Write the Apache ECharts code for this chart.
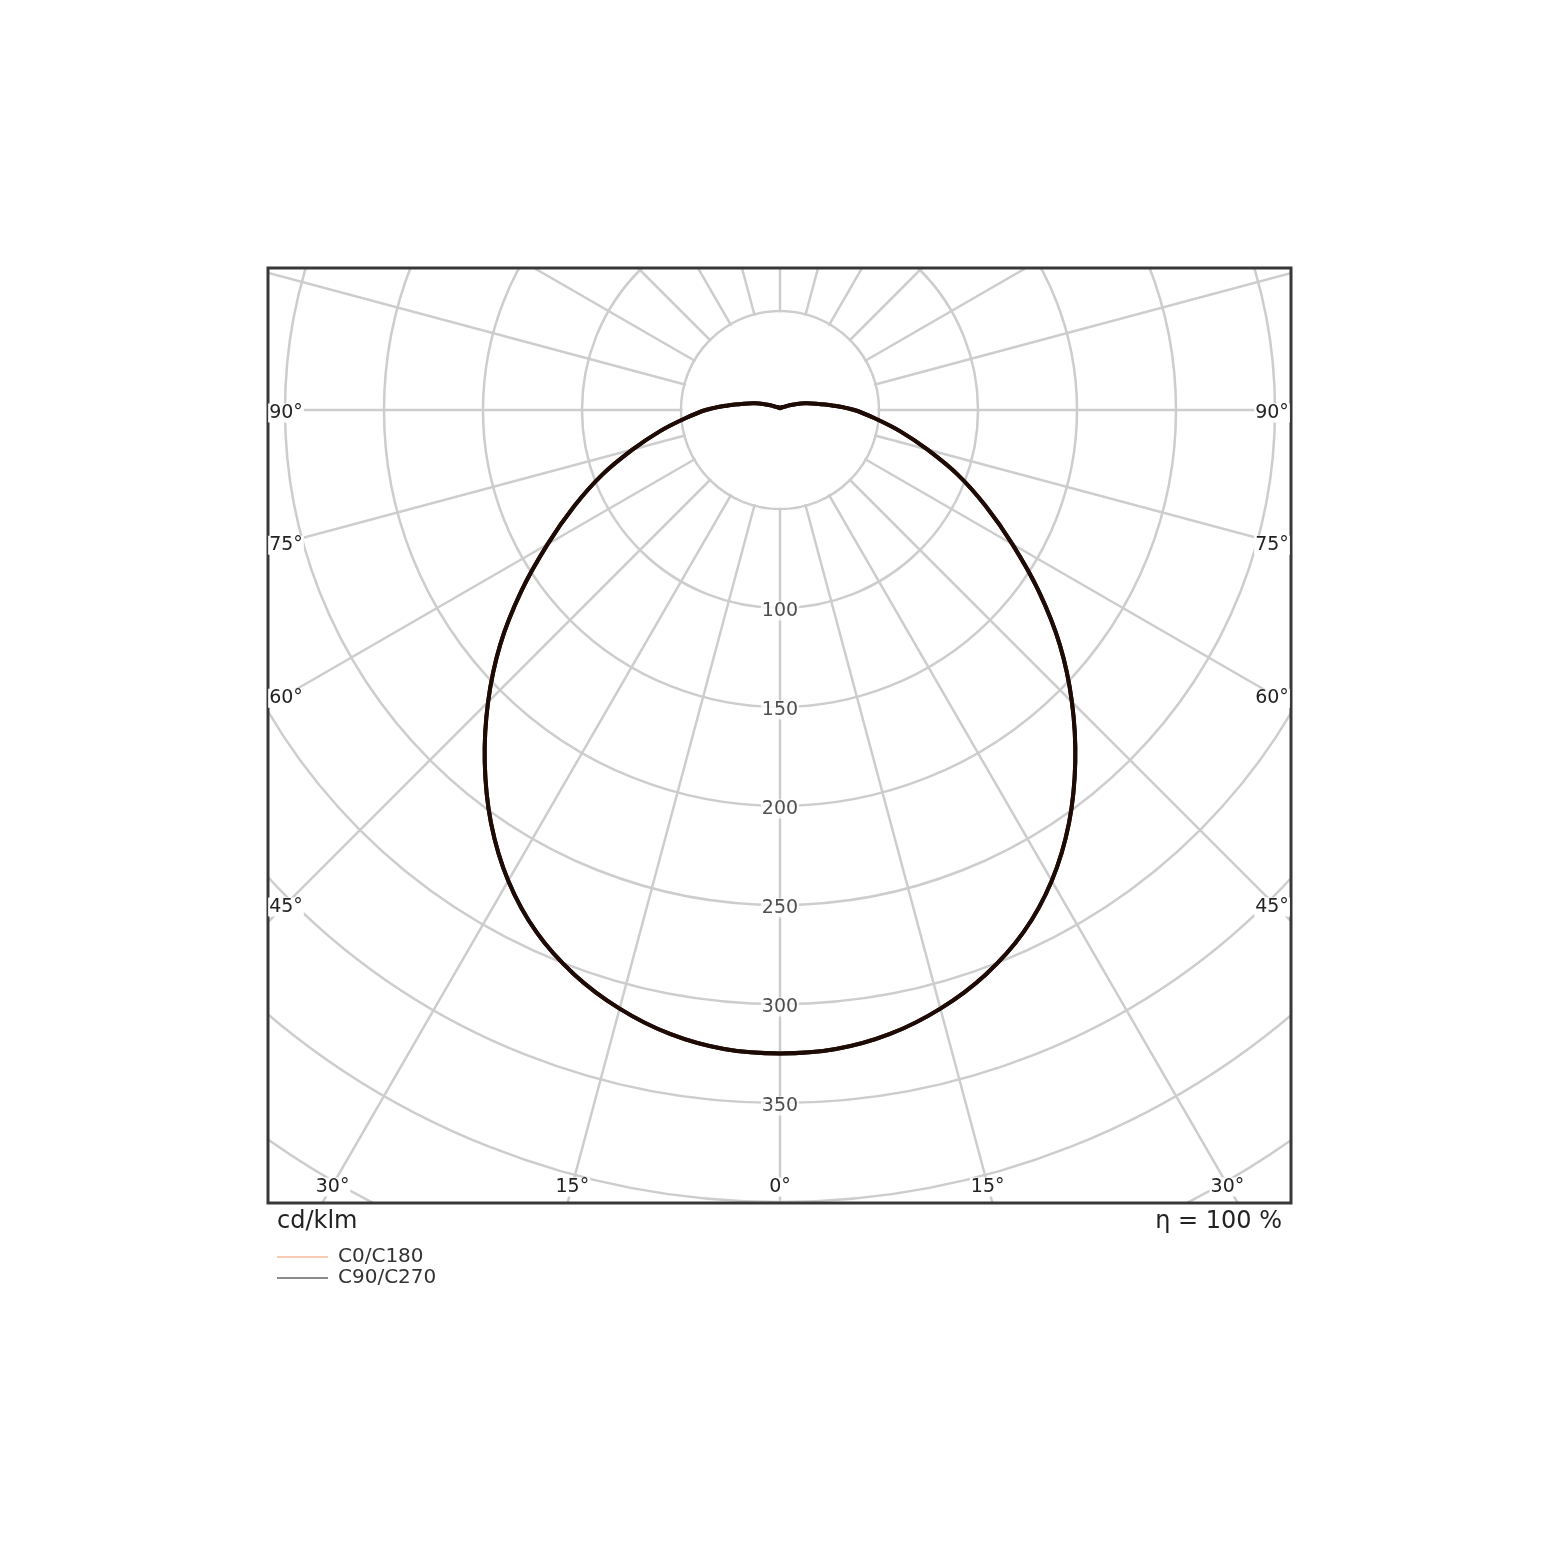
<!DOCTYPE html>
<html><head><meta charset="utf-8">
<script src="https://cdn.jsdelivr.net/npm/echarts@6/dist/echarts.min.js"></script>
<style>html,body{margin:0;padding:0;background:#fff}#c{width:1560px;height:1561px}</style>
</head><body><div id="c"></div>
<script>
// ---------- data (cd/klm, gamma 0 = straight down; both halves of each plane are symmetric) ----------
const gammaAngles = [0,5,10,15,20,25,30,35,40,45,50,55,60,65,70,75,80,85,90,95,100,105,110,115,120,125,130,135,140,145,150,155,160,165,170,175,180];
const c0c180  = [325,324,320,313,303.5,291,274.5,254.5,232,208.5,184.5,159.5,135.5,114.5,95.5,77,61.5,48,37.5,26.5,18.5,13,9,6,4,3,2.5,2,2,1.5,1.5,1.5,1,1,1,1,1];
const c90c270 = [325,324,320,313,303.5,291,274.5,254.5,232,208.5,184.5,159.5,135.5,114.5,95.5,77,61.5,48,37.5,26.5,18.5,13,9,6,4,3,2.5,2,2,1.5,1.5,1.5,1,1,1,1,1];
const radialTickLabels = [100,150,200,250,300,350];
const bottomAngleLabels = [0,15,30];
const sideAngleLabels = [45,60,75,90];
const legendNames = ['C0/C180','C90/C270'];
const legendColors = ['#f6c9b0','#8c8c8c'];
const unitLabel = 'cd/klm';
const efficiencyLabel = 'η = 100 %';

// ---------- layout ----------
const CX = 780, CY = 410;
const R_OUT = 990;                  // 500 cd/klm -> 990 px
const HOLE = 97.5;                  // blank centre (inside the 50 ring)
const BOX = {x1: 268, y1: 268, x2: 1291, y2: 1203};
const SIDE_LABEL_D = 494;
const BOTTOM_LABEL_Y = 1185;
const GRID = '#cdcdcd';
const TXT = '#222';
const CURVE = '#1e0b05';
const FONT = 'DejaVu Sans';

// closed loop of [intensity, angle]: left half gamma 180..0, right half gamma 5..175
function loop(values) {
  const pts = [];
  for (let i = gammaAngles.length - 1; i >= 0; i--) pts.push([values[i], gammaAngles[i]]);
  for (let i = 1; i < gammaAngles.length - 1; i++) pts.push([values[i], 360 - gammaAngles[i]]);
  return pts;
}

function curveSeries(name, values, color, z) {
  return {
    type: 'custom', name: name, coordinateSystem: 'polar', silent: true, z: z,
    itemStyle: {color: color},
    data: [[0, 0]],
    renderItem: function (params, api) {
      const pts = loop(values).map(p => api.coord(p));
      return {type: 'polygon', shape: {points: pts, smooth: 0.35},
        style: {fill: 'none', stroke: CURVE, lineWidth: 4, lineJoin: 'round'}};
    }
  };
}

const chart = echarts.init(document.getElementById('c'), null, {renderer: 'canvas'});

const graphics = [];
graphics.push({type:'circle', z:1, silent:true, shape:{cx:CX, cy:CY, r:HOLE}, style:{fill:'#fff'}});
graphics.push({type:'rect', z:50, silent:true, shape:{x:0,y:0,width:1560,height:BOX.y1-1}, style:{fill:'#fff'}});
graphics.push({type:'rect', z:50, silent:true, shape:{x:0,y:BOX.y2+1,width:1560,height:1561-BOX.y2}, style:{fill:'#fff'}});
graphics.push({type:'rect', z:50, silent:true, shape:{x:0,y:0,width:BOX.x1-1,height:1561}, style:{fill:'#fff'}});
graphics.push({type:'rect', z:50, silent:true, shape:{x:BOX.x2+1,y:0,width:1560-BOX.x2,height:1561}, style:{fill:'#fff'}});
graphics.push({type:'rect', z:60, silent:true, shape:{x:BOX.x1,y:BOX.y1,width:BOX.x2-BOX.x1,height:BOX.y2-BOX.y1},
  style:{fill:'none', stroke:'#383838', lineWidth:3}});

function angleText(txt, x, y) {
  return {type:'text', z:70, silent:true, x:x, y:y,
    style:{text:txt, fill:TXT, fontSize:19, fontFamily:FONT, align:'center', verticalAlign:'middle',
      textAlign:'center', textVerticalAlign:'middle', backgroundColor:'#fff', padding:[0,1]}};
}
sideAngleLabels.forEach(g => {
  const rad = g * Math.PI / 180;
  const y = CY + SIDE_LABEL_D / Math.tan(rad) + 3;
  graphics.push(angleText(g + '°', CX - SIDE_LABEL_D, y));
  graphics.push(angleText(g + '°', CX + SIDE_LABEL_D - 2, y));
});
bottomAngleLabels.forEach(g => {
  const rad = g * Math.PI / 180;
  const dx = (BOTTOM_LABEL_Y - CY) * Math.tan(rad);
  graphics.push(angleText(g + '°', CX - dx, BOTTOM_LABEL_Y + 2));
  if (g !== 0) graphics.push(angleText(g + '°', CX + dx, BOTTOM_LABEL_Y + 2));
});
graphics.push({type:'text', z:70, silent:true, x:277, y:1222,
  style:{text:unitLabel, fill:TXT, fontSize:24, fontFamily:FONT, align:'left', verticalAlign:'middle', textAlign:'left', textVerticalAlign:'middle'}});
graphics.push({type:'text', z:70, silent:true, x:1282, y:1222,
  style:{text:efficiencyLabel, fill:TXT, fontSize:24, fontFamily:FONT, align:'right', verticalAlign:'middle', textAlign:'right', textVerticalAlign:'middle'}});

const option = {
  backgroundColor: '#fff',
  animation: false,
  polar: {center: [CX, CY], radius: [0, R_OUT]},
  angleAxis: {
    type: 'value', min: 0, max: 360, interval: 15, startAngle: 270, clockwise: true,
    axisLine: {show: false}, axisTick: {show: false}, axisLabel: {show: false},
    splitLine: {show: true, lineStyle: {color: GRID, width: 2.5}}
  },
  radiusAxis: {
    type: 'value', min: 0, max: 500, interval: 50,
    axisLine: {show: false}, axisTick: {show: false}, axisLabel: {show: false},
    splitLine: {show: true, lineStyle: {color: GRID, width: 2.5}}
  },
  legend: {
    z: 100, orient: 'vertical', left: 272, top: 1242, icon: 'rect',
    itemWidth: 51, itemHeight: 2, itemGap: 1,
    textStyle: {fontSize: 20, color: '#333', fontFamily: FONT, padding: [0, 0, 0, 5], lineHeight: 20},
    data: [
      {name: legendNames[0], itemStyle: {color: legendColors[0]}},
      {name: legendNames[1], itemStyle: {color: legendColors[1]}}
    ]
  },
  series: [
    curveSeries(legendNames[0], c0c180, legendColors[0], 3),
    curveSeries(legendNames[1], c90c270, legendColors[1], 4),
    {type: 'scatter', name: 'ticks', coordinateSystem: 'polar', silent: true,
      data: radialTickLabels.map(v => [v, 0]), symbolSize: 1, itemStyle: {color: 'rgba(0,0,0,0)'},
      label: {show: true, position: 'inside', formatter: p => String(p.value[0]),
        fontSize: 19, fontFamily: FONT, color: TXT, backgroundColor: '#fff', padding: [0, 1], offset: [0, 3]},
      z: 6}
  ],
  graphic: {elements: graphics}
};
chart.setOption(option);
</script></body></html>
